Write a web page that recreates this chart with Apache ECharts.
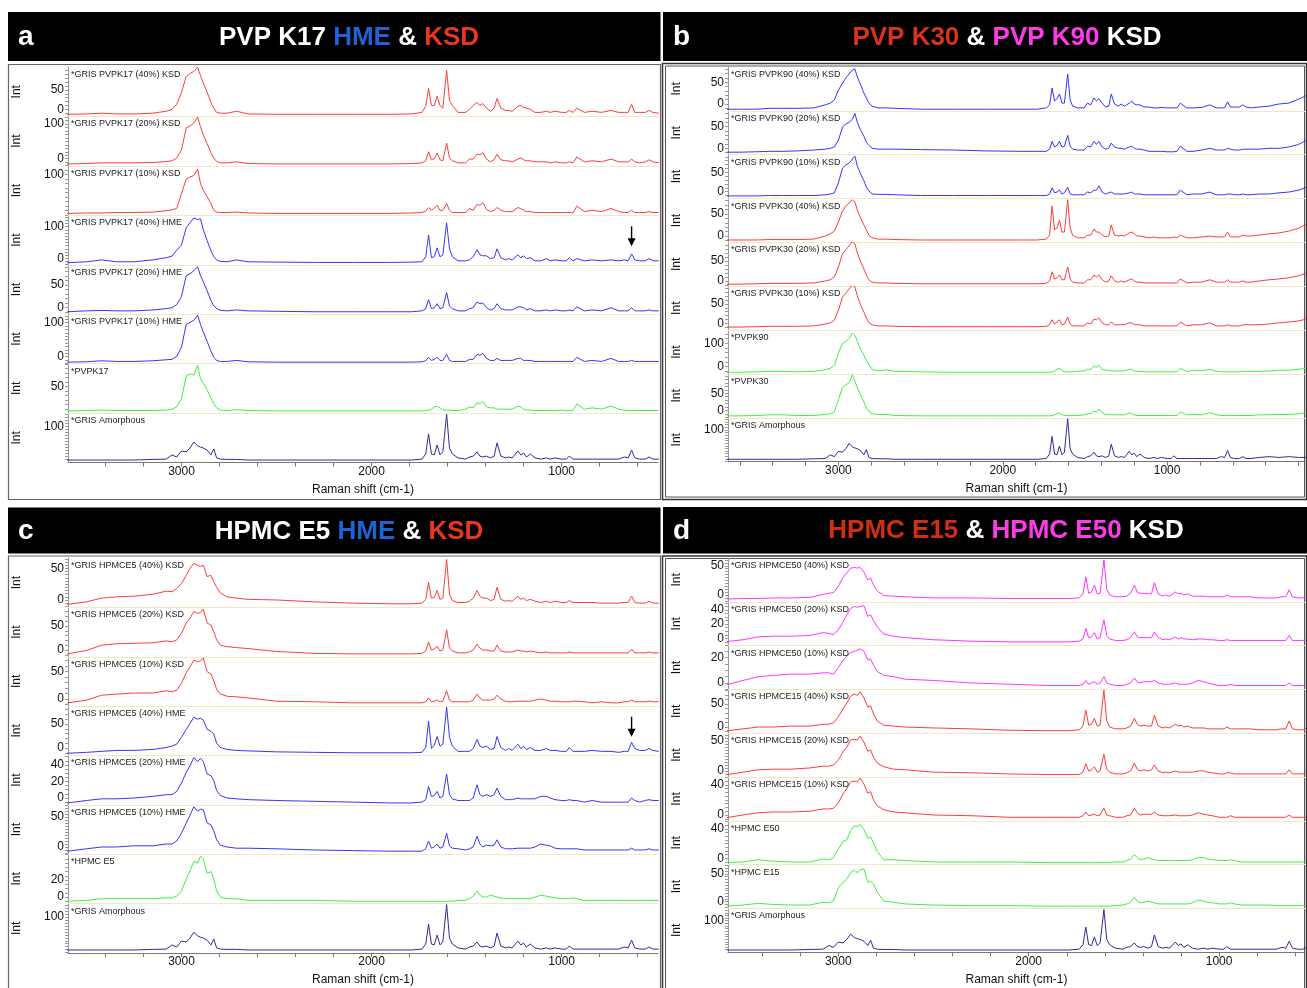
<!DOCTYPE html>
<html>
<head>
<meta charset="utf-8">
<script src="https://cdn.jsdelivr.net/npm/echarts@6/dist/echarts.min.js"></script>
<style>
  html, body { margin: 0; background: #fff; }
  #chart { width: 1307px; height: 988px; }
</style>
</head>
<body>
<div id="chart"></div>
<script>
// Raman shift grid (cm-1) shared by every spectrum below
var shifts = [3700,3600,3500,3420,3340,3250,3150,3080,3050,3025,3000,2975,2955,2935,2915,2900,2885,2865,2845,2830,2815,2795,2760,2710,2650,2500,2300,2100,1900,1790,
  1735,1715,1700,1685,1670,1655,1640,1625,1605,1590,1575,1545,1505,1485,1465,1445,1430,1415,1395,1375,1355,1340,1320,1295,1280,1260,1230,1215,1200,1185,1165,1140,1110,1080,1060,1035,1000,975,960,940,920,880,840,790,740,700,670,650,632,615,590,560,540,520,490,440,380,320,260,200,150];

// intensities, one value per shift
var grisAmorphous = [-11,-11,-11,-11,-11,-11,-9,-8,6,-1,19,16,29,49,36,32,29,22,6,26,-4,-8,-9,-9,-11,-11,-11,-11,-11,-11,
  -8,9,76,9,6,39,6,16,142,29,9,-4,-8,-1,2,16,2,-1,2,-4,2,46,2,-4,-1,-4,19,6,12,-1,9,-4,-8,-4,-8,-4,-8,-8,2,-8,-8,-8,-8,-8,-8,-8,-1,-4,22,-4,-8,-8,-1,-8,-8,-4,-1,-4,-1,-4,-4];

var gPvpk17Ksd40 = [-13,-13,-12,-10,-12,-12,-10,-5,0,13,44,85,93,98,109,88,67,44,18,3,-8,-10,-10,-5,-12,-13,-13,-13,-13,-12,
  -8,8,54,10,10,34,10,3,101,23,10,-8,-8,0,10,18,10,15,3,-5,3,28,3,-3,-3,-5,8,10,5,3,0,-8,-8,-5,-8,-5,-8,-8,-3,-8,3,-8,-5,-8,-3,-8,-8,-8,13,-8,-8,-8,-3,-8,-10,-10,-10,-10,-10,-10,-10];
var gPvpk17Ksd20 = [-15,-15,-14,-12,-12,-12,-11,-8,-6,2,25,89,94,103,120,92,69,43,17,2,-8,-12,-12,-9,-14,-15,-15,-15,-15,-14,
  -12,-6,20,-3,0,16,-3,-6,45,2,-6,-12,-12,-1,-1,14,11,17,-1,-9,-3,13,-3,-6,-6,-9,-1,2,-3,-6,-6,-9,-9,-9,-12,-9,-12,-12,-9,-12,5,-9,-6,-9,-1,-9,-9,-9,-1,-9,-12,-9,-3,-9,-12,-12,-12,-12,-12,-12,-12];
var gPvpk17Ksd10 = [14,14,15,15,16,16,17,20,22,25,58,90,95,98,112,81,65,51,36,21,17,16,16,17,15,14,14,14,14,15,
  16,19,27,21,25,32,21,21,36,21,16,16,16,25,21,34,32,38,23,18,21,27,21,18,18,18,27,25,21,18,18,16,16,16,16,16,16,16,16,15,30,18,21,18,25,18,16,16,21,16,16,16,18,16,16,16,16,16,16,16,16];
var gPvpk17Hme40 = [-14,-14,-11,-5,-11,-11,-5,2,7,26,42,97,112,128,122,125,90,56,24,5,-5,-10,-11,-5,-11,-12,-13,-13,-13,-12,
  -11,5,74,2,5,33,5,11,112,30,5,-8,-8,-5,5,27,11,8,8,-1,2,30,2,-5,-1,-5,11,2,8,-1,2,-8,-8,-1,-8,-5,-8,-8,2,-8,-1,-8,-5,-8,-5,-8,-5,-8,14,-5,-8,-8,-1,-8,-8,-8,-8,-8,-8,-8,-8];
var gPvpk17Hme20 = [-10,-10,-8,-7,-8,-8,-6,-3,-1,6,24,71,75,82,91,71,57,37,15,3,-3,-7,-8,-6,-8,-9,-10,-10,-10,-10,
  -8,-3,17,-3,-1,8,-3,-1,33,3,-3,-8,-8,-3,-1,12,8,10,-1,-6,-3,8,-3,-6,-6,-6,1,1,-1,-6,-3,-8,-8,-6,-8,-6,-8,-8,-6,-8,1,-8,-6,-8,-1,-8,-8,-8,-1,-8,-8,-8,-6,-8,-8,-8,-8,-8,-8,-8,-8];
var gPvpk17Hme10 = [-16,-16,-15,-12,-14,-14,-12,-9,-8,1,28,95,101,107,122,95,72,45,16,-2,-11,-14,-14,-11,-15,-16,-16,-16,-16,-16,
  -15,-12,-2,-11,-8,-2,-11,-11,7,-11,-14,-14,-14,-8,-8,7,4,10,-5,-11,-11,-5,-11,-11,-11,-11,-5,-5,-11,-11,-11,-14,-14,-14,-14,-14,-14,-14,-14,-14,-2,-14,-11,-14,-5,-14,-14,-14,-11,-14,-14,-14,-14,-14,-14,-14,-14,-14,-14,-14,-14];
var pvpk17 = [-4,-4,-3,-2,-3,-3,-3,-2,0,5,23,74,78,76,98,67,58,43,25,12,3,-2,-3,-1,-3,-4,-4,-4,-4,-4,
  -4,-3,-2,0,5,7,3,-2,-2,-2,-3,-3,0,5,3,14,12,18,5,3,3,0,0,0,0,0,7,5,0,-2,-2,-3,-3,-3,-3,-3,-2,-3,-3,-3,12,0,3,0,7,0,-2,-3,-3,-3,-3,-3,-3,-3,-3,-3,-3,-3,-3,-3,-3];

var gPvpk90Ksd40 = [-12,-12,-12,-10,-10,-10,-9,-2,2,9,32,48,60,69,78,81,62,44,25,14,2,-5,-9,-9,-10,-12,-12,-12,-12,-12,
  -9,-2,37,7,12,23,2,2,69,9,-5,-9,-9,2,-2,14,7,12,2,-7,-5,23,0,-5,0,-5,2,7,0,-2,-2,-7,-7,-9,-9,-8,-9,-9,-9,-9,2,-9,-9,-8,-2,-9,-9,-9,5,-7,-7,-7,-2,-7,-9,-7,-5,0,2,11,20];
var gPvpk90Ksd20 = [-9,-9,-8,-7,-7,-6,-4,-2,0,3,19,49,56,60,67,81,60,42,28,14,7,0,-2,-2,-2,-3,-4,-6,-7,-7,
  -7,-2,16,3,7,16,3,5,30,5,-2,-4,-4,5,3,16,9,16,3,-2,0,12,3,0,0,-2,3,5,0,-2,-2,-4,-7,-7,-7,-7,-8,-8,-8,-7,5,-7,-7,-4,0,-4,-4,-4,0,-2,-4,-4,-2,-2,-2,-2,0,0,3,9,19];
var gPvpk90Ksd10 = [-11,-11,-11,-10,-10,-10,-10,-8,-6,-3,23,61,69,74,84,92,66,46,28,12,2,-6,-7,-7,-8,-10,-10,-10,-10,-10,
  -10,-6,10,-3,-1,4,-6,-3,12,-6,-8,-8,-8,-1,-3,4,4,15,-1,-6,-3,-1,-6,-6,-6,-6,-3,-1,-6,-6,-6,-8,-8,-8,-8,-8,-8,-8,-8,-8,4,-8,-6,-6,-1,-8,-8,-8,-6,-6,-8,-8,-6,-8,-8,-6,-6,-3,-1,4,12];
var gPvpk30Ksd40 = [-9,-9,-9,-8,-8,-8,-7,0,5,11,32,57,68,75,82,77,59,41,25,14,2,-4,-7,-7,-8,-9,-9,-9,-9,-9,
  -7,2,68,14,18,36,9,9,82,18,2,-4,-4,2,2,16,9,9,2,-2,0,25,2,0,2,0,7,9,5,0,0,-2,-4,-2,-4,-4,-4,-4,-2,-4,2,-4,-4,-2,0,-2,-2,-2,9,-2,-2,-2,2,0,0,2,5,7,11,18,27];
var gPvpk30Ksd20 = [-8,-8,-7,-6,-6,-6,-5,0,3,10,35,68,78,88,98,93,70,48,30,15,3,-3,-5,-5,-6,-7,-7,-7,-7,-7,
  -6,0,23,5,8,15,3,3,35,5,-3,-5,-5,3,3,15,10,15,3,-3,0,13,0,-3,0,-3,3,5,0,-3,-3,-5,-5,-5,-5,-5,-5,-5,-5,-5,5,-5,-3,-3,3,-3,-3,-3,3,-3,-3,-3,0,-3,-3,0,3,5,8,13,20];
var gPvpk30Ksd10 = [-10,-10,-9,-8,-8,-8,-7,-2,1,8,34,68,78,89,99,94,71,47,29,14,1,-4,-7,-7,-8,-9,-9,-9,-9,-9,
  -8,-4,9,-2,3,9,-4,-2,16,-2,-7,-7,-7,1,-2,11,9,14,1,-4,-4,3,-4,-4,-4,-4,1,1,-4,-4,-4,-7,-7,-7,-7,-7,-7,-7,-7,-7,3,-7,-4,-4,1,-7,-7,-7,-4,-7,-7,-7,-4,-4,-4,-4,-2,1,3,6,11];
var pvpk90 = [-24,-24,-22,-20,-20,-22,-20,-13,-7,6,57,100,108,121,143,134,108,74,49,27,10,-11,-18,-14,-20,-22,-24,-24,-24,-24,
  -24,-24,-22,-18,-11,-7,-15,-22,-22,-22,-22,-20,-18,-11,-11,2,-3,6,-11,-15,-15,-18,-18,-18,-18,-18,-11,-11,-18,-20,-20,-22,-22,-22,-22,-22,-22,-22,-22,-22,-7,-20,-15,-18,-11,-20,-22,-22,-22,-22,-22,-22,-20,-20,-20,-20,-18,-15,-15,-11,-7];
var pvpk30 = [-15,-15,-14,-12,-12,-14,-14,-11,-9,-4,31,68,74,80,103,85,65,45,25,8,-1,-9,-11,-11,-14,-15,-15,-15,-15,-15,
  -15,-15,-14,-12,-9,-6,-11,-14,-14,-14,-14,-14,-12,-9,-9,-1,-4,5,-6,-11,-11,-12,-12,-12,-12,-12,-6,-9,-12,-14,-14,-14,-14,-14,-14,-14,-14,-14,-14,-14,-4,-12,-11,-12,-6,-12,-14,-14,-14,-14,-14,-14,-14,-14,-14,-12,-12,-11,-11,-9,-6];

var gE5Ksd40 = [-7,-7,-3,3,5,6,9,14,13,18,26,39,50,58,55,53,55,37,39,29,20,11,5,3,1,0,-3,-5,-6,-6,
  -5,1,28,3,4,15,1,3,64,9,-1,-4,-4,-2,3,15,6,3,3,-1,1,20,1,-2,-1,-2,6,1,3,-1,1,-2,-4,-2,-4,-2,-4,-4,-1,-4,-4,-4,-4,-5,-5,-5,-4,-4,6,-4,-5,-5,-2,-5,-5,-5,-5,-5,-5,-5,-5];
var gE5Ksd20 = [-8,-8,-1,10,13,14,15,19,17,21,35,56,66,80,76,78,85,56,52,38,21,10,7,5,3,-3,-7,-8,-8,-8,
  -7,-2,17,0,2,8,-2,0,42,4,-2,-6,-6,-4,0,12,4,0,0,-2,-2,10,-2,-4,-4,-4,0,-2,-2,-4,-2,-4,-6,-4,-6,-6,-6,-6,-4,-6,-6,-6,-6,-6,-6,-6,-6,-6,2,-6,-6,-6,-4,-6,-6,-6,-6,-6,-6,-6,-6];
var gE5Ksd10 = [-7,-7,-2,7,9,11,11,15,13,16,29,48,59,71,68,70,75,50,46,33,18,9,5,4,2,-4,-5,-7,-7,-7,
  -7,-5,2,-5,-4,-2,-5,-4,15,-2,-5,-5,-5,-5,-2,9,2,-2,-2,-2,0,7,0,-4,-5,-5,-4,-4,-4,-4,-4,-2,0,-2,-4,-4,-5,-5,-5,-4,-4,-5,-7,-5,-7,-7,-5,-5,-2,-5,-5,-5,-4,-5,-5,-5,-5,-5,-5,-5,-5];
var gE5Hme40 = [-11,-11,-9,-7,-5,-5,-3,1,4,8,22,39,51,64,60,62,58,39,35,29,10,1,-3,-5,-6,-8,-9,-10,-10,-10,
  -9,1,56,-1,6,24,4,8,85,22,4,-7,-7,-7,-1,18,4,1,4,-3,-1,24,1,-5,-1,-5,8,-1,4,-3,1,-5,-5,-1,-5,-5,-7,-7,1,-7,-7,-7,-5,-7,-7,-9,-7,-7,12,-1,-5,-5,-1,-5,-7,-7,-7,-7,-7,-7,-7];
var gE5Hme20 = [-6,-6,-3,-1,-1,0,2,4,4,8,18,31,39,49,44,48,44,29,27,21,9,3,0,-1,-2,-3,-4,-5,-6,-6,
  -5,-2,14,2,3,8,0,2,29,4,-1,-3,-3,-3,0,16,4,2,4,2,4,12,2,-2,-2,-2,0,-1,-1,-1,-1,-1,2,2,0,-2,-3,-3,-2,-3,-3,-5,-3,-5,-5,-5,-5,-5,0,-3,-5,-3,-2,-3,-3,-3,-3,-3,-3,-3,-3];
var gE5Hme10 = [-7,-7,-3,0,0,2,2,5,5,10,23,40,53,67,60,63,62,40,37,27,12,3,0,-2,-2,-3,-5,-6,-7,-7,
  -7,-3,10,-2,0,5,-2,0,23,2,-2,-3,-5,-3,0,18,5,0,3,2,3,12,0,-3,-3,-3,-2,-2,-2,-2,-2,0,5,3,2,-2,-3,-3,-3,-3,-3,-5,-5,-5,-5,-5,-5,-5,-2,-5,-5,-5,-3,-5,-5,-5,-5,-5,-5,-5,-5];
var hpmcE5 = [-5,-5,-4,-2,-2,-2,-2,-1,-1,1,7,21,31,42,40,48,45,28,30,21,7,0,-2,-2,-4,-4,-4,-5,-5,-5,
  -5,-5,-5,-5,-5,-5,-5,-5,-5,-5,-5,-4,-4,-2,1,7,2,0,0,2,1,0,-1,-2,-2,-2,-2,-2,-2,-2,-2,0,2,1,0,-1,-2,-2,-2,-1,-2,-4,-4,-4,-4,-4,-4,-4,-4,-4,-4,-4,-4,-4,-4,-4,-4,-4,-4,-4,-4];

var gE50Ksd40 = [-7,-7,-6,-6,-5,-5,-4,1,3,4,15,30,38,46,47,46,47,39,26,29,17,7,-1,-2,-3,-5,-5,-6,-6,-6,
  -5,2,31,3,5,17,2,3,60,10,0,-3,-3,-2,3,17,5,3,3,2,2,21,2,-2,0,-2,5,2,3,0,2,-2,-2,-2,-3,-3,-3,-3,0,-3,-3,-3,-3,-5,-5,-5,-3,-3,9,-3,-5,-5,-2,-5,-5,-5,-5,-5,-5,-5,-5];
var gE50Ksd20 = [-5,-5,-2,2,3,3,4,8,7,5,12,23,33,42,45,44,45,46,31,33,25,16,6,3,1,-2,-4,-5,-5,-5,
  -4,-1,14,1,2,8,-1,1,26,4,-1,-3,-3,-2,1,9,2,1,1,1,1,9,1,-2,-1,-2,2,-1,1,-1,-1,-2,-1,-1,-2,-2,-3,-3,-2,-3,-3,-3,-3,-3,-3,-3,-3,-3,4,-3,-3,-3,-2,-3,-3,-3,-3,-3,-3,-3,-3];
var gE50Ksd10 = [-2,-2,2,5,6,7,7,8,8,7,12,18,21,24,25,26,27,25,18,19,14,9,6,5,3,2,0,-1,-2,-2,
  -2,-1,2,-1,0,1,-1,0,5,0,-1,-2,-2,-1,0,4,1,0,1,1,1,2,0,-1,-1,-1,0,-1,-1,-1,-1,0,2,1,0,-1,-2,-2,-2,-1,-2,-2,-2,-2,-2,-2,-2,-2,0,-2,-2,-2,-2,-2,-2,-2,-2,-2,-2,-2,-2];
var gE15Ksd40 = [-9,-9,-4,0,0,2,2,6,6,9,22,39,52,67,72,69,76,63,43,46,28,13,4,2,0,-2,-4,-7,-8,-8,
  -6,2,37,4,6,19,2,4,80,13,0,-4,-4,-2,2,19,6,2,4,2,2,26,2,-2,0,-2,6,2,4,0,2,-2,-2,-2,-4,-4,-4,-4,0,-4,-4,-4,-4,-6,-6,-6,-4,-4,13,-4,-6,-6,-2,-6,-6,-6,-6,-6,-6,-6,-6];
var gE15Ksd20 = [-7,-7,-2,2,3,3,5,8,8,10,18,32,40,52,53,52,58,48,33,35,23,13,7,3,2,-2,-3,-5,-6,-6,
  -6,-2,12,0,2,7,-2,0,28,3,-2,-5,-5,-3,0,13,3,0,2,0,2,10,0,-3,-2,-3,0,-2,-2,-2,-2,-2,0,0,-2,-3,-5,-5,-3,-3,-5,-5,-5,-5,-5,-5,-5,-5,2,-5,-5,-5,-3,-5,-5,-5,-5,-5,-5,-5,-5];
var gE15Ksd10 = [-4,-4,0,3,4,4,5,8,8,9,16,28,35,44,45,44,49,41,29,31,20,12,7,4,3,0,-1,-3,-3,-3,
  -3,-1,4,-1,0,1,-1,0,9,0,-1,-3,-3,-1,0,9,3,0,1,1,1,4,0,-1,-1,-1,0,-1,-1,-1,-1,0,3,1,0,-1,-3,-3,-3,-1,-3,-3,-3,-3,-3,-3,-3,-3,0,-3,-3,-3,-3,-3,-3,-3,-3,-3,-3,-3,-3];
var hpmcE50 = [-6,-6,-5,-2,-4,-5,-5,-1,-2,1,12,23,25,38,44,43,46,39,27,29,21,9,-2,-2,-3,-5,-5,-5,-6,-6,
  -6,-6,-6,-6,-6,-6,-6,-6,-6,-6,-6,-5,-5,-3,-1,5,1,-2,-1,1,-1,-2,-3,-3,-3,-3,-3,-3,-3,-3,-3,-2,1,1,-1,-2,-3,-3,-3,-2,-3,-5,-5,-5,-5,-5,-5,-5,-5,-5,-5,-5,-5,-5,-5,-5,-5,-5,-5,-5,-5];
var hpmcE15 = [-8,-8,-6,-3,-5,-6,-6,-1,-2,1,25,35,41,52,57,52,57,59,35,37,32,17,1,-1,-4,-6,-7,-7,-8,-8,
  -8,-8,-8,-8,-8,-8,-8,-8,-8,-8,-8,-7,-6,-4,-1,8,1,-2,-1,1,-1,-2,-4,-4,-4,-4,-4,-4,-4,-4,-4,-2,3,1,-1,-2,-4,-4,-4,-2,-4,-6,-6,-6,-6,-7,-7,-7,-7,-7,-7,-7,-7,-7,-7,-7,-7,-7,-7,-7,-7];

var xLabels = [1000, 2000, 3000];

var FONT = 'Arial, "Liberation Sans", sans-serif';
var RED = '#ff3b3b', BLUE = '#3535ff', GREEN = '#3ef03e', NAVY = '#2d2d96', MAGENTA = '#ff33ff';
var headColors = { w: '#ffffff', hb: '#1d63d3', hr: '#e8361f', pr: '#d8321c', pm: '#ff3ae8', dr: '#cf2f10' };

var panels = [
  { letter: 'a', head: [['PVP K17', 'w'], ['HME', 'hb'], ['&', 'w'], ['KSD', 'hr']],
    titleX: 349, box: [8, 12, 660.5, 61], frame: [8.5, 64.5, 652, 435], double: false,
    left: 68, width: 590, top: 67, bottom: 462.6, xMin: 493, xMax: 3597,
    rows: [
      { name: '*GRIS PVPK17 (40%) KSD', data: gPvpk17Ksd40, color: RED, min: -18.5, max: 109.6, labels: [0, 50], minor: 10 },
      { name: '*GRIS PVPK17 (20%) KSD', data: gPvpk17Ksd20, color: RED, min: -20.7, max: 121.7, labels: [0, 100], minor: 10 },
      { name: '*GRIS PVPK17 (10%) KSD', data: gPvpk17Ksd10, color: RED, min: 9.7, max: 119.4, labels: [100], minor: 10 },
      { name: '*GRIS PVPK17 (40%) HME', data: gPvpk17Hme40, color: BLUE, min: -20.5, max: 135.7, labels: [0, 100], minor: 10, arrow: [632, 70] },
      { name: '*GRIS PVPK17 (20%) HME', data: gPvpk17Hme20, color: BLUE, min: -15.6, max: 95.2, labels: [0, 50], minor: 10 },
      { name: '*GRIS PVPK17 (10%) HME', data: gPvpk17Hme10, color: BLUE, min: -20.6, max: 124.8, labels: [0, 100], minor: 10 },
      { name: '*PVPK17', data: pvpk17, color: GREEN, min: -8.8, max: 101, labels: [50], minor: 10 },
      { name: '*GRIS Amorphous', data: grisAmorphous, color: NAVY, min: -19.6, max: 145, labels: [100], minor: 10 }
    ] },
  { letter: 'b', head: [['PVP K30', 'pr'], ['&', 'w'], ['PVP K90', 'pm'], ['KSD', 'w']],
    titleX: 1007, box: [663, 12, 1307, 61], frame: [662.5, 63.5, 644, 436], double: true,
    left: 728, width: 577, top: 67, bottom: 461.7, xMin: 161, xMax: 3672,
    rows: [
      { name: '*GRIS PVPK90 (40%) KSD', data: gPvpk90Ksd40, color: BLUE, min: -15.8, max: 85.1, labels: [0, 50], minor: 10 },
      { name: '*GRIS PVPK90 (20%) KSD', data: gPvpk90Ksd20, color: BLUE, min: -14.8, max: 86.5, labels: [0, 50], minor: 10 },
      { name: '*GRIS PVPK90 (10%) KSD', data: gPvpk90Ksd10, color: BLUE, min: -17.8, max: 95.5, labels: [0, 50], minor: 10 },
      { name: '*GRIS PVPK30 (40%) KSD', data: gPvpk30Ksd40, color: RED, min: -14.5, max: 84.9, labels: [0, 50], minor: 10 },
      { name: '*GRIS PVPK30 (20%) KSD', data: gPvpk30Ksd20, color: RED, min: -13.3, max: 96.5, labels: [0, 50], minor: 10 },
      { name: '*GRIS PVPK30 (10%) KSD', data: gPvpk30Ksd10, color: RED, min: -17.9, max: 95.8, labels: [0, 50], minor: 10 },
      { name: '*PVPK90', data: pvpk90, color: GREEN, min: -31.2, max: 155.9, labels: [0, 100], minor: 20 },
      { name: '*PVPK30', data: pvpk30, color: GREEN, min: -20.7, max: 105.3, labels: [0, 50], minor: 10 },
      { name: '*GRIS Amorphous', data: grisAmorphous, color: NAVY, min: -20.1, max: 145.9, labels: [100], minor: 10 }
    ] },
  { letter: 'c', head: [['HPMC E5', 'w'], ['HME', 'hb'], ['&', 'w'], ['KSD', 'hr']],
    titleX: 349, box: [8, 507.5, 660.5, 553.5], frame: [8.5, 556, 652, 440], double: false,
    left: 68, width: 590, top: 558, bottom: 953, xMin: 493, xMax: 3597,
    rows: [
      { name: '*GRIS HPMCE5 (40%) KSD', data: gE5Ksd40, color: RED, min: -11.7, max: 66.4, labels: [0, 50], minor: 5 },
      { name: '*GRIS HPMCE5 (20%) KSD', data: gE5Ksd20, color: RED, min: -14, max: 88.6, labels: [0, 50], minor: 10 },
      { name: '*GRIS HPMCE5 (10%) KSD', data: gE5Ksd10, color: RED, min: -13, max: 77.3, labels: [0, 50], minor: 10 },
      { name: '*GRIS HPMCE5 (40%) HME', data: gE5Hme40, color: BLUE, min: -15.6, max: 87.2, labels: [0, 50], minor: 10, arrow: [632, 44] },
      { name: '*GRIS HPMCE5 (20%) HME', data: gE5Hme20, color: BLUE, min: -8.3, max: 51.4, labels: [0, 20, 40], minor: 5 },
      { name: '*GRIS HPMCE5 (10%) HME', data: gE5Hme10, color: BLUE, min: -12.1, max: 70.3, labels: [0, 50], minor: 5 },
      { name: '*HPMC E5', data: hpmcE5, color: GREEN, min: -7.8, max: 50.4, labels: [0, 20], minor: 5 },
      { name: '*GRIS Amorphous', data: grisAmorphous, color: NAVY, min: -21.2, max: 145.2, labels: [100], minor: 10 }
    ] },
  { letter: 'd', head: [['HPMC E15', 'dr'], ['&', 'w'], ['HPMC E50', 'pm'], ['KSD', 'w']],
    titleX: 1006, box: [663, 507, 1307, 553.5], frame: [662.5, 556, 644, 440], double: true,
    left: 728, width: 577, top: 558, bottom: 952.3, xMin: 549, xMax: 3579,
    rows: [
      { name: '*GRIS HPMCE50 (40%) KSD', data: gE50Ksd40, color: MAGENTA, min: -11.6, max: 63.3, labels: [0, 50], minor: 5 },
      { name: '*GRIS HPMCE50 (20%) KSD', data: gE50Ksd20, color: MAGENTA, min: -10.3, max: 51.5, labels: [0, 20, 40], minor: 5 },
      { name: '*GRIS HPMCE50 (10%) KSD', data: gE50Ksd10, color: MAGENTA, min: -5.1, max: 29.5, labels: [0, 20], minor: 5 },
      { name: '*GRIS HPMCE15 (40%) KSD', data: gE15Ksd40, color: RED, min: -13.5, max: 81.6, labels: [0, 50], minor: 10 },
      { name: '*GRIS HPMCE15 (20%) KSD', data: gE15Ksd20, color: RED, min: -10.2, max: 63.1, labels: [0, 50], minor: 5 },
      { name: '*GRIS HPMCE15 (10%) KSD', data: gE15Ksd10, color: RED, min: -7.8, max: 50.4, labels: [0, 40], minor: 5 },
      { name: '*HPMC E50', data: hpmcE50, color: GREEN, min: -8.7, max: 50.9, labels: [0, 40], minor: 5 },
      { name: '*HPMC E15', data: hpmcE15, color: GREEN, min: -12.2, max: 66.6, labels: [0, 50], minor: 5 },
      { name: '*GRIS Amorphous', data: grisAmorphous, color: NAVY, min: -19.7, max: 146.3, labels: [100], minor: 10 }
    ] }
];

function steps(from, to, step) {
  var out = [];
  for (var v = Math.ceil(from / step) * step; v <= to + 1e-9; v += step) out.push(Math.round(v * 1000) / 1000);
  return out;
}

var chart = echarts.init(document.getElementById('chart'));
var grids = [], xAxes = [], yAxes = [], series = [], graphics = [];

var richHead = {};
Object.keys(headColors).forEach(function (k) {
  richHead[k] = { fill: headColors[k], fontSize: 26, fontWeight: 'bold', fontFamily: FONT };
});

panels.forEach(function (p) {
  var b = p.box;
  graphics.push({ type: 'rect', shape: { x: b[0], y: b[1], width: b[2] - b[0], height: b[3] - b[1] }, style: { fill: '#000' } });
  graphics.push({ type: 'text', x: b[0] + 10, y: (b[1] + b[3]) / 2 + 1,
    style: { text: p.letter, fill: '#fff', font: 'bold 28px ' + FONT, verticalAlign: 'middle' } });
  graphics.push({ type: 'text', x: p.titleX, y: (b[1] + b[3]) / 2 + 1,
    style: { text: p.head.map(function (h) { return '{' + h[1] + '|' + h[0] + '}'; }).join(' '),
      rich: richHead, font: 'bold 26px ' + FONT, fill: '#fff', align: 'center', verticalAlign: 'middle' } });
  var f = p.frame;
  graphics.push({ type: 'rect', shape: { x: f[0], y: f[1], width: f[2], height: f[3] },
    style: { fill: 'none', stroke: p.double ? '#333' : '#666', lineWidth: p.double ? 1.5 : 1.2 } });
  if (p.double) {
    graphics.push({ type: 'rect', shape: { x: f[0] + 3, y: f[1] + 2.5, width: f[2] - 5, height: f[3] - 5 },
      style: { fill: 'none', stroke: '#555', lineWidth: 1 } });
  }

  var rowH = (p.bottom - p.top) / p.rows.length;
  p.rows.forEach(function (r, i) {
    var idx = grids.length;
    var last = i === p.rows.length - 1;
    var rowTop = p.top + i * rowH;
    grids.push({ left: p.left, width: p.width, top: rowTop, height: rowH, containLabel: false });
    xAxes.push({
      gridIndex: idx, type: 'value', min: p.xMin, max: p.xMax, inverse: true,
      axisLine: { show: true, onZero: false, lineStyle: { color: last ? '#777' : '#f6e6c8', width: 1 } },
      axisTick: { show: last, customValues: steps(p.xMin, p.xMax, 200), length: 4, lineStyle: { color: '#777' } },
      axisLabel: { show: last, customValues: xLabels, fontSize: 12, fontFamily: FONT, color: '#111', margin: 3,
        formatter: function (v) { return String(v); } },
      splitLine: { show: false },
      name: last ? 'Raman shift (cm-1)' : '', nameLocation: 'middle', nameGap: 21,
      nameTextStyle: { fontSize: 12, fontFamily: FONT, color: '#111' }
    });
    yAxes.push({
      gridIndex: idx, type: 'value', min: r.min, max: r.max,
      axisLine: { show: true, onZero: false, lineStyle: { color: '#999', width: 1 } },
      axisTick: { show: true, customValues: steps(r.min, r.max, r.minor), length: 3, lineStyle: { color: '#999' } },
      axisLabel: { customValues: r.labels, fontSize: 12, fontFamily: FONT, color: '#111', margin: 4,
        formatter: function (v) { return String(v); } },
      splitLine: { show: false },
      name: 'Int', nameLocation: 'middle', nameRotate: 90, nameGap: 45,
      nameTextStyle: { fontSize: 12, fontFamily: FONT, color: '#111' }
    });
    var s = {
      type: 'line', xAxisIndex: idx, yAxisIndex: idx, silent: true, animation: false,
      showSymbol: false, clip: true,
      lineStyle: { width: 1, color: r.color }, itemStyle: { color: r.color },
      data: shifts.map(function (w, j) { return [w, r.data[j]]; })
    };
    if (r.arrow) {
      s.markPoint = {
        silent: true, animation: false,
        symbol: 'path://M3.3,0L4.7,0L4.7,12L8,12L4,20L0,12L3.3,12Z', symbolSize: [8, 20],
        itemStyle: { color: '#000' }, label: { show: false },
        data: [{ coord: r.arrow }]
      };
    }
    series.push(s);
    graphics.push({ type: 'text', x: p.left + 3, y: rowTop + 3, z: 50,
      style: { text: r.name, font: '9px ' + FONT, fill: '#222' } });
  });
});

chart.setOption({
  animation: false,
  backgroundColor: '#fff',
  grid: grids,
  xAxis: xAxes,
  yAxis: yAxes,
  series: series,
  graphic: { elements: graphics }
});
</script>
</body>
</html>
